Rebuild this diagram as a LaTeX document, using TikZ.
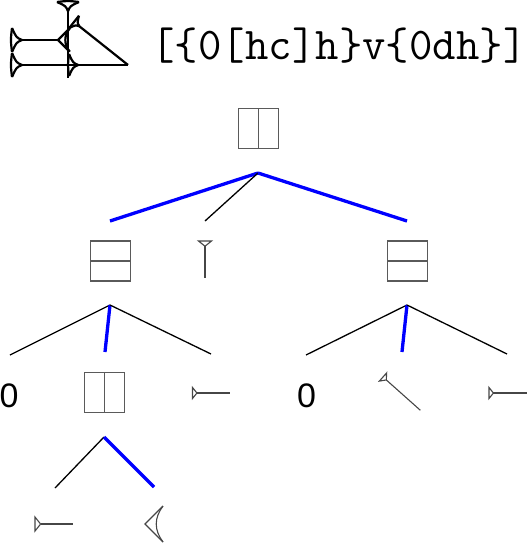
\documentclass[tikz,border=0pt]{standalone}
\usepackage{fontspec}
\newfontfamily\zerofont{Liberation Sans}
\definecolor{boxgray}{RGB}{90,90,90}
\definecolor{wedgegray}{RGB}{70,70,70}
\begin{document}
\begin{tikzpicture}[x=1pt,y=-1pt,
  boxst/.style={draw=boxgray, line width=1.4pt, minimum size=40pt, inner sep=0pt},
  splitv/.style={boxst, path picture={\draw[boxgray,line width=1.4pt] (path picture bounding box.north) -- (path picture bounding box.south);}},
  splith/.style={boxst, path picture={\draw[boxgray,line width=1.4pt] (path picture bounding box.west) -- (path picture bounding box.east);}},
  thinedge/.style={line width=1.3pt, black},
  blueedge/.style={line width=3.3pt, blue},
  wedgest/.style={line width=1.1pt, draw=wedgegray, line join=miter},
  glyphst/.style={line width=2.2pt, draw=black, line join=round},
  zerost/.style={font=\zerofont\fontsize{34}{34}\selectfont, inner sep=0pt},
  pics/wedge/.style n args={2}{code={
    \draw[wedgest] (0,-#2/2) -- (#2*0.4,0) -- (0,#2/2) -- cycle;
    \draw[wedgest] (#2*0.4,0) -- (#1,0);
  }},
  pics/bigwedge/.style n args={2}{code={
    \draw[glyphst] (0,-#2/2) .. controls (-#2*0.06,0) .. (0,#2/2);
    \draw[glyphst] (0,-#2/2) .. controls (#2*0.18,-#2*0.1) .. (#2*0.42,0) .. controls (#2*0.18,#2*0.1) .. (0,#2/2);
    \draw[glyphst] (#2*0.42,0) -- (#1,0);
  }},
  pics/winkel/.style={code={
    \draw[#1] (18,-18) -- (0,0) -- (18,18);
    \draw[#1] (18,-18) .. controls (9,-6) and (9,6) .. (18,18);
  }}
]
\useasboundingbox (0,0) rectangle (527,544);

% ---- composite sign (top left) ----
\coordinate (g1) at (12,40);
\coordinate (g2) at (12,65);
\coordinate (g3) at (68,2);
\coordinate (g4) at (69,65);
\coordinate (g5) at (74,22);
\coordinate (g6) at (58,40);
\pic at (g1) {bigwedge={48}{24}};
\pic at (g2) {bigwedge={116}{24}};
\pic[rotate=-90] at (g3) {bigwedge={76}{22}};
\pic at (g4) {bigwedge={59}{22}};
\pic[rotate=-38.5] at (g5) {bigwedge={69}{16}};
\pic[scale=0.65] at (g6) {winkel=glyphst};

% ---- formula ----
\node[anchor=base, inner sep=0pt] (formula) at (339,59)
  {\ttfamily\fontsize{45.5}{45.5}\selectfont [\{0[hc]h\}v\{0dh\}]};

% ---- tree nodes ----
\node[splitv] (root) at (258.5,128.5) {};
\node[splith] (a) at (110.5,261) {};
\coordinate (v) at (205,241);
\pic[rotate=-90] at (v) {wedge={37}{13}};
\node[splith] (b) at (407.5,261) {};

\node[zerost] (z1) at (9,395.5) {0};
\node[splitv] (c) at (104.5,392.5) {};
\coordinate (h1) at (192.5,393);
\pic at (h1) {wedge={37.5}{11}};

\node[zerost] (z2) at (306.5,395.5) {0};
\coordinate (d1) at (383,377);
\pic[rotate=-41.7] at (d1) {wedge={50}{11}};
\coordinate (h2) at (489,393);
\pic at (h2) {wedge={38}{11}};

\coordinate (h3) at (35,524);
\pic at (h3) {wedge={38}{14}};
\coordinate (w) at (145,524);
\pic at (w) {winkel=wedgest};

% ---- connector end points ----
\coordinate (root-s) at (258,173);
\coordinate (a-n) at (110,221);
\coordinate (v-n) at (205,221);
\coordinate (b-n) at (407,221);
\coordinate (a-s) at (110,305);
\coordinate (z1-n) at (10,355);
\coordinate (c-n) at (105,352);
\coordinate (h1-n) at (211,354);
\coordinate (b-s) at (407,305);
\coordinate (z2-n) at (306,355);
\coordinate (d1-n) at (402,352);
\coordinate (h2-n) at (507,354);
\coordinate (c-s) at (104,437);
\coordinate (h3-n) at (55,488);
\coordinate (w-n) at (154,487);

% ---- connectors ----
\draw[blueedge] (root-s) -- (a-n);
\draw[thinedge] (root-s) -- (v-n);
\draw[blueedge] (root-s) -- (b-n);
\draw[thinedge] (a-s) -- (z1-n);
\draw[blueedge] (a-s) -- (c-n);
\draw[thinedge] (a-s) -- (h1-n);
\draw[thinedge] (b-s) -- (z2-n);
\draw[blueedge] (b-s) -- (d1-n);
\draw[thinedge] (b-s) -- (h2-n);
\draw[thinedge] (c-s) -- (h3-n);
\draw[blueedge] (c-s) -- (w-n);
\end{tikzpicture}
\end{document}
